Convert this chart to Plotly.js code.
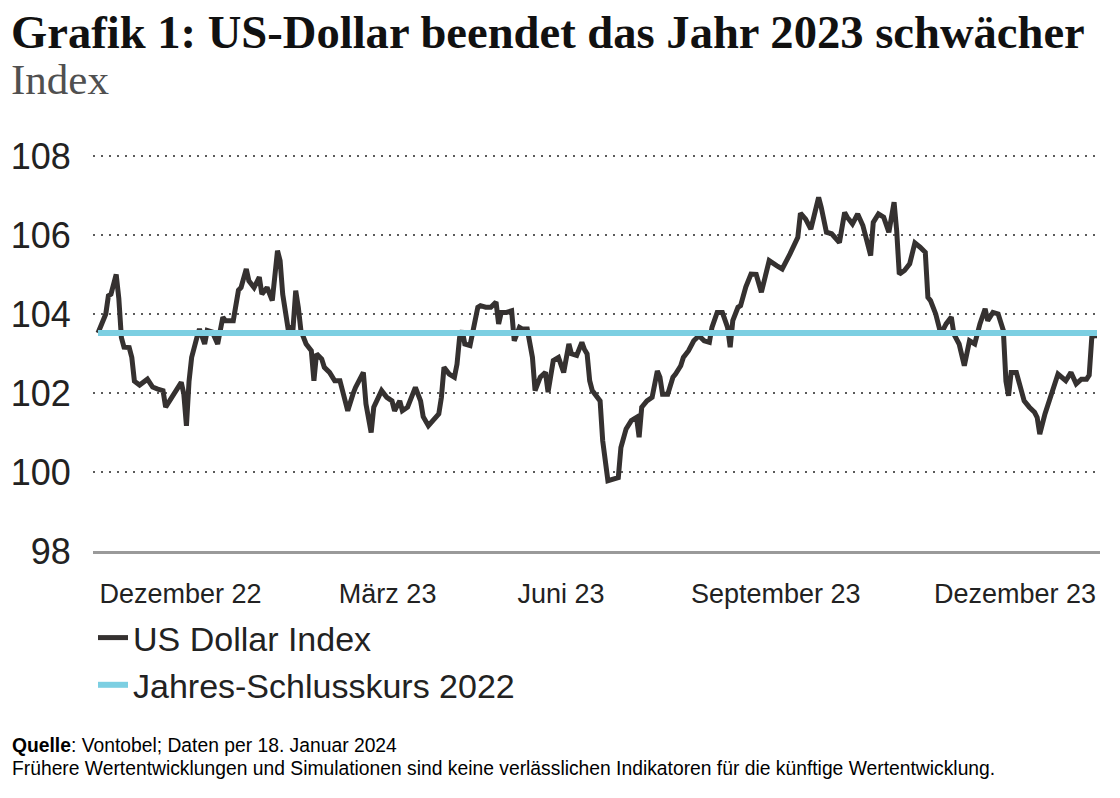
<!DOCTYPE html>
<html>
<head>
<meta charset="utf-8">
<script src="https://cdn.plot.ly/plotly-3.0.1.min.js"></script>
<style>
  html, body { margin: 0; padding: 0; background: #ffffff; }
  #chart { width: 1120px; height: 798px; }
</style>
</head>
<body>
<div id="chart"></div>
<script>
// US Dollar Index, daily closes (selected points), 30.12.2022 – 18.01.2024
const dates = [
  '2022-12-30','2023-01-02','2023-01-03','2023-01-04','2023-01-06','2023-01-07','2023-01-08','2023-01-09','2023-01-11','2023-01-12','2023-01-13','2023-01-15','2023-01-18','2023-01-20','2023-01-22','2023-01-24','2023-01-25','2023-01-28','2023-01-31',
  '2023-02-01','2023-02-02','2023-02-03','2023-02-04','2023-02-06','2023-02-07','2023-02-09','2023-02-10','2023-02-12','2023-02-14','2023-02-16','2023-02-17','2023-02-20','2023-02-21','2023-02-22','2023-02-23','2023-02-25','2023-02-26','2023-02-28',
  '2023-03-02','2023-03-03','2023-03-05','2023-03-07','2023-03-09','2023-03-10','2023-03-11','2023-03-13','2023-03-15','2023-03-16','2023-03-17','2023-03-18','2023-03-20','2023-03-22','2023-03-23','2023-03-24','2023-03-26','2023-03-27','2023-03-29','2023-03-31',
  '2023-04-02','2023-04-05','2023-04-07','2023-04-08','2023-04-11','2023-04-12','2023-04-14','2023-04-15','2023-04-18','2023-04-20','2023-04-22','2023-04-23','2023-04-25','2023-04-26','2023-04-28','2023-04-30',
  '2023-05-01','2023-05-03','2023-05-04','2023-05-06','2023-05-08','2023-05-10','2023-05-11','2023-05-12','2023-05-14','2023-05-16','2023-05-17','2023-05-18','2023-05-19','2023-05-20','2023-05-22','2023-05-23','2023-05-25','2023-05-26','2023-05-28','2023-05-30',
  '2023-06-01','2023-06-02','2023-06-03','2023-06-05','2023-06-07','2023-06-08','2023-06-10','2023-06-11','2023-06-13','2023-06-15','2023-06-16','2023-06-18','2023-06-20','2023-06-21','2023-06-23','2023-06-25','2023-06-27','2023-06-29','2023-06-30',
  '2023-07-02','2023-07-04','2023-07-05','2023-07-06','2023-07-07','2023-07-08','2023-07-11','2023-07-12','2023-07-14','2023-07-16','2023-07-18','2023-07-19','2023-07-21','2023-07-23','2023-07-25','2023-07-26','2023-07-27','2023-07-29','2023-07-31',
  '2023-08-02','2023-08-03','2023-08-04','2023-08-06','2023-08-08','2023-08-09','2023-08-11','2023-08-12','2023-08-14','2023-08-16','2023-08-18','2023-08-20','2023-08-22','2023-08-23','2023-08-25','2023-08-27','2023-08-29','2023-08-30','2023-08-31',
  '2023-09-02','2023-09-03','2023-09-05','2023-09-07','2023-09-09','2023-09-11','2023-09-14','2023-09-17','2023-09-19','2023-09-22','2023-09-25','2023-09-26','2023-09-28','2023-09-30',
  '2023-10-02','2023-10-03','2023-10-04','2023-10-06','2023-10-08','2023-10-11','2023-10-13','2023-10-14','2023-10-16','2023-10-18','2023-10-20','2023-10-22','2023-10-23','2023-10-24','2023-10-26','2023-10-28','2023-10-30',
  '2023-11-01','2023-11-02','2023-11-03','2023-11-05','2023-11-07','2023-11-09','2023-11-11','2023-11-13','2023-11-14','2023-11-15','2023-11-17','2023-11-18','2023-11-19','2023-11-21','2023-11-23','2023-11-24','2023-11-26','2023-11-28','2023-11-30',
  '2023-12-02','2023-12-04','2023-12-06','2023-12-07','2023-12-09','2023-12-11','2023-12-13','2023-12-14','2023-12-15','2023-12-16','2023-12-18','2023-12-19','2023-12-21','2023-12-23','2023-12-25','2023-12-26','2023-12-27','2023-12-29',
  '2024-01-01','2024-01-03','2024-01-06','2024-01-08','2024-01-10','2024-01-12','2024-01-14','2024-01-15','2024-01-16','2024-01-17','2024-01-18'
];

const dollarIndex = [
  103.52,104.00,104.46,104.50,105.00,104.40,103.40,103.16,103.15,102.90,102.30,102.20,102.35,102.15,102.10,102.06,101.64,101.97,102.27,
  101.97,101.17,102.30,102.90,103.40,103.62,103.24,103.58,103.54,103.24,103.92,103.83,103.83,104.17,104.60,104.67,105.14,104.84,104.67,
  104.93,104.50,104.67,104.34,105.60,105.35,104.50,103.66,103.66,104.59,104.17,103.58,103.24,103.07,102.31,102.99,102.86,102.65,102.52,102.31,
  102.31,101.55,101.97,102.14,102.52,101.72,101.00,101.64,102.06,101.89,101.80,101.55,101.80,101.55,101.64,101.97,
  102.14,101.80,101.40,101.17,101.30,101.47,101.89,102.65,102.48,102.40,102.73,103.41,103.58,103.24,103.20,103.58,104.17,104.21,104.17,104.17,
  104.30,103.75,104.04,104.04,104.08,103.32,103.66,103.62,103.62,102.90,102.06,102.40,102.52,102.02,102.82,102.90,102.52,103.24,102.99,
  102.95,103.28,103.10,102.99,102.31,102.06,101.80,100.79,99.78,99.82,99.86,100.62,101.09,101.30,101.38,100.88,101.64,101.80,101.89,
  102.56,102.40,101.97,101.97,102.40,102.48,102.69,102.90,103.07,103.32,103.45,103.32,103.28,103.66,104.04,104.04,103.66,103.16,103.83,
  104.17,104.21,104.68,105.01,105.00,104.55,105.35,105.22,105.14,105.52,105.94,106.55,106.40,106.15,
  106.70,106.95,106.70,106.07,106.03,105.81,106.57,106.45,106.28,106.53,106.24,105.77,105.48,106.32,106.53,106.45,106.07,
  106.83,106.11,105.01,105.10,105.27,105.80,105.69,105.56,104.42,104.34,104.00,103.75,103.49,103.75,103.92,103.49,103.24,102.69,103.32,
  103.24,103.75,104.13,103.83,104.04,104.00,103.58,102.30,101.93,102.52,102.52,102.31,101.80,101.64,101.51,101.38,100.96,101.47,
  102.02,102.48,102.31,102.52,102.23,102.35,102.35,102.45,103.41,103.45,103.45
];

// Closing level of 2022, held flat across the period
const closeDates = ['2022-12-30', '2024-01-18'];
const close2022 = [103.52, 103.52];

const seriesNames = ['US Dollar Index', 'Jahres-Schlusskurs 2022'];

const yTicks = [98, 100, 102, 104, 106, 108];
const xTickDates = ['2023-01-30 18:00', '2023-04-20 08:00', '2023-06-26 00:00', '2023-09-16 12:00', '2023-12-17 12:00'];
const xTickLabels = ['Dezember 22', 'März 23', 'Juni 23', 'September 23', 'Dezember 23'];

const titleText = '<b>Grafik 1: US-Dollar beendet das Jahr 2023 schwächer</b>';
const subtitleText = 'Index';
const sourceText = '<b>Quelle</b>: Vontobel; Daten per 18. Januar 2024';
const disclaimerText = 'Frühere Wertentwicklungen und Simulationen sind keine verlässlichen Indikatoren für die künftige Wertentwicklung.';

// Plot-area frame in page pixels
const W = 1120, H = 798;
const PL = 93, PR = 1100, PT = 151.6, PB = 550.6;
const px = x => (x - PL) / (PR - PL);
const py = y => (PB - y) / (PB - PT);

const SANS = 'Liberation Sans, Arial, Helvetica, sans-serif';
const SERIF = 'Liberation Serif, Times New Roman, serif';

const traces = [
  {
    x: dates, y: dollarIndex, name: seriesNames[0],
    type: 'scatter', mode: 'lines',
    line: { color: '#353130', width: 5, shape: 'linear' }
  },
  {
    x: closeDates, y: close2022, name: seriesNames[1],
    type: 'scatter', mode: 'lines',
    line: { color: '#7ccfe2', width: 6 }
  }
];

const layout = {
  width: W, height: H,
  margin: { l: PL, r: W - PR, t: PT, b: H - PB, pad: 0, autoexpand: false },
  paper_bgcolor: '#ffffff',
  plot_bgcolor: '#ffffff',
  showlegend: true,
  legend: {
    xref: 'container', yref: 'container',
    x: 93 / W, y: 1 - 609 / H, xanchor: 'left', yanchor: 'top',
    orientation: 'v', itemwidth: 30,
    bgcolor: 'rgba(0,0,0,0)', borderwidth: 0,
    font: { family: SANS, size: 34, color: '#222222' },
    tracegroupgap: 0
  },
  xaxis: {
    type: 'date', automargin: false,
    range: ['2022-12-28 02:00', '2024-01-19 03:40'],
    tickmode: 'array', tickvals: xTickDates, ticktext: xTickLabels,
    tickangle: 0,
    ticks: 'outside', ticklen: 17, tickcolor: 'rgba(0,0,0,0)',
    tickfont: { family: SANS, size: 27, color: '#222222' },
    showgrid: false, zeroline: false,
    showline: true, linecolor: '#9a9a9a', linewidth: 2.5,
    fixedrange: true
  },
  yaxis: {
    range: [98, 108.1], automargin: false,
    tickmode: 'array', tickvals: yTicks,
    ticks: 'outside', ticklen: 14, tickcolor: 'rgba(0,0,0,0)',
    tickfont: { family: SANS, size: 36, color: '#222222' },
    showgrid: true, gridcolor: '#5a5a5a', gridwidth: 2, griddash: '2px,6px',
    zeroline: false, showline: false,
    fixedrange: true
  },
  annotations: [
    { text: titleText, xref: 'paper', yref: 'paper', x: px(9), y: py(32),
      xanchor: 'left', yanchor: 'middle', showarrow: false,
      font: { family: SERIF, size: 46.6, color: '#111111' } },
    { text: subtitleText, xref: 'paper', yref: 'paper', x: px(9), y: py(79),
      xanchor: 'left', yanchor: 'middle', showarrow: false,
      font: { family: SERIF, size: 43, color: '#505050' } },
    { text: sourceText, xref: 'paper', yref: 'paper', x: px(10), y: py(745),
      xanchor: 'left', yanchor: 'middle', showarrow: false,
      font: { family: SANS, size: 19.3, color: '#000000' } },
    { text: disclaimerText, xref: 'paper', yref: 'paper', x: px(10), y: py(768),
      xanchor: 'left', yanchor: 'middle', showarrow: false,
      font: { family: SANS, size: 19.3, color: '#000000' } }
  ]
};

Plotly.newPlot('chart', traces, layout, { staticPlot: true, displayModeBar: false });
</script>
</body>
</html>
